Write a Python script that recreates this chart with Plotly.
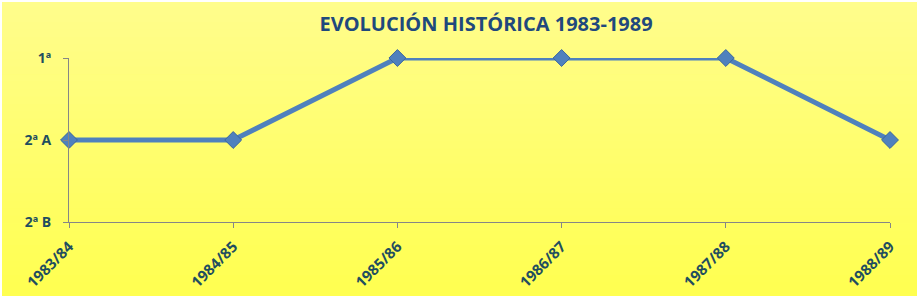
import plotly.graph_objects as go

seasons = ["1983/84", "1984/85", "1985/86", "1986/87", "1987/88", "1988/89"]
levels = [2, 2, 3, 3, 3, 2]
level_vals = [1, 2, 3]
level_labels = ["2ª B", "2ª A", "1ª"]

W, H = 919, 298
ml, mr, mt, mb = 69, 29, 58, 76

fig = go.Figure()
fig.add_trace(go.Scatter(
    x=seasons, y=levels, mode="lines+markers",
    line=dict(color="#4F81BD", width=5),
    marker=dict(symbol="diamond", size=13, color="#4F81BD",
                line=dict(color="#3A679E", width=1)),
    cliponaxis=False, hoverinfo="skip"))

# background gradient (light yellow at top to stronger yellow at bottom)
shapes = []
n = 40
pw = W - ml - mr
ph = H - mt - mb
x0 = -ml / pw
x1 = 1 + mr / pw
y_bot = -mb / ph
y_top = 1 + mt / ph
top = (255, 253, 140)
bot = (255, 255, 80)
for i in range(n):
    t = i / (n - 1)
    c = tuple(int(round(top[k] + (bot[k] - top[k]) * t)) for k in range(3))
    ya = y_top - (y_top - y_bot) * i / n
    yb = y_top - (y_top - y_bot) * (i + 1) / n
    shapes.append(dict(type="rect", xref="paper", yref="paper",
                       x0=x0, x1=x1, y0=yb - 0.002, y1=ya + 0.002,
                       fillcolor="rgb(%d,%d,%d)" % c, line=dict(width=0),
                       layer="below"))
# thin white frame
shapes.append(dict(type="rect", xref="paper", yref="paper",
                   x0=x0 + 1 / pw, x1=x1 - 1 / pw, y0=y_bot + 1 / ph, y1=y_top - 1 / ph,
                   line=dict(color="#FFFFFF", width=2), layer="below"))

fig.update_layout(
    width=W, height=H,
    margin=dict(l=ml, r=mr, t=mt, b=mb, autoexpand=False),
    paper_bgcolor="#FFFF70", plot_bgcolor="rgba(0,0,0,0)",
    showlegend=False,
    shapes=shapes,
    title=dict(text="<b>EVOLUCIÓN HISTÓRICA 1983-1989</b>", x=0.508, xref="paper",
               xanchor="center", y=0.918, yanchor="middle",
               font=dict(family="Open Sans", size=20, color="#1F497D")),
    xaxis=dict(type="category", range=[0, 5], showgrid=False, automargin=False,
               showline=True, linecolor="#868686", linewidth=1,
               ticks="outside", ticklen=5, tickcolor="#868686",
               tickangle=-45, ticklabelstandoff=4,
               tickfont=dict(family="Open Sans", size=15, color="#1F4E5F")),
    yaxis=dict(range=[1, 3], showgrid=False, zeroline=False, automargin=False,
               showline=True, linecolor="#868686", linewidth=1,
               ticks="outside", ticklen=5, tickcolor="#868686",
               ticklabelstandoff=9,
               tickvals=level_vals, ticktext=["<b>%s</b>" % s for s in level_labels],
               tickfont=dict(family="Open Sans", size=14, color="#1F4E5F")),
)
fig.update_xaxes(ticktext=["<b>%s</b>" % s for s in seasons], tickvals=seasons)

fig.write_html("out.html")
